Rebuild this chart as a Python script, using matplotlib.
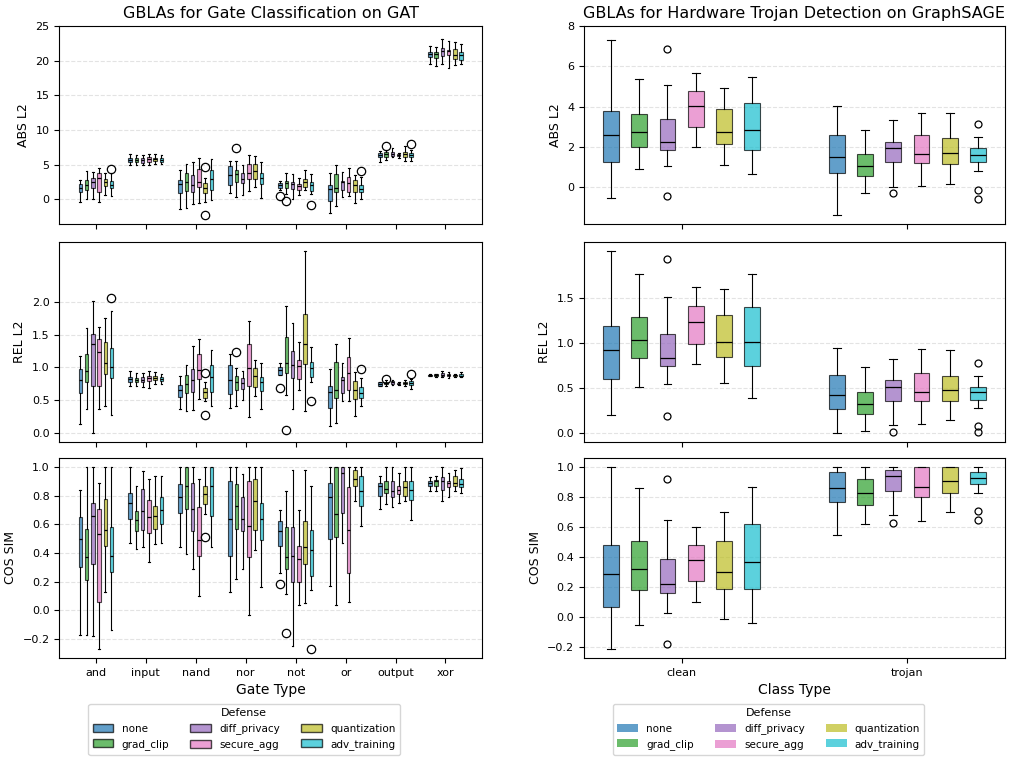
import matplotlib
matplotlib.use("Agg")
import matplotlib.pyplot as plt
from matplotlib.patches import Patch

defenses = ["none", "grad_clip", "diff_privacy", "secure_agg", "quantization", "adv_training"]
colors = ["tab:blue", "tab:green", "tab:purple", "tab:pink", "tab:olive", "tab:cyan"]

gates = ["and", "input", "nand", "nor", "not", "or", "output", "xor"]
classes = ["clean", "trojan"]

# each box: (whislo, q1, median, q3, whishi), one row per category, one box per defense
gat_abs = [
    [(-0.33, 1.10, 1.62, 2.19, 2.76), (0.05, 1.38, 2.10, 2.81, 4.10), (0.0, 1.67, 2.43, 3.05, 4.0),
     (-0.43, 1.0, 3.05, 3.86, 4.57), (0.67, 1.95, 2.43, 2.9, 3.76), (0.43, 1.67, 2.14, 2.67, 3.76)],
    [(5.0, 5.38, 5.71, 5.95, 6.52), (5.0, 5.38, 5.67, 5.90, 6.43), (4.90, 5.24, 5.62, 5.95, 6.43),
     (4.90, 5.43, 5.76, 6.05, 6.52), (5.10, 5.48, 5.76, 5.95, 6.52), (5.10, 5.38, 5.71, 5.95, 6.43)],
    [(-1.43, 0.9, 2.24, 2.76, 4.29), (-1.19, 1.24, 2.52, 3.76, 5.14), (-0.71, 1.05, 2.14, 3.57, 5.43),
     (-0.57, 1.81, 2.52, 4.38, 6.0), (-0.33, 0.9, 1.62, 2.29, 3.14), (-0.14, 1.38, 2.9, 4.24, 5.81)],
    [(0.95, 2.14, 3.48, 4.76, 5.57), (0.29, 2.43, 3.62, 4.29, 5.48), (0.67, 2.33, 2.95, 3.86, 4.9),
     (1.14, 2.9, 3.86, 5.1, 6.43), (1.71, 3.0, 4.1, 5.1, 6.19), (0.19, 2.24, 3.14, 3.86, 5.43)],
    [(1.33, 1.57, 2.05, 2.33, 2.67), (0.81, 1.57, 2.29, 2.67, 3.81), (0.1, 1.43, 2.19, 2.48, 3.62),
     (0.67, 1.33, 1.95, 2.24, 3.05), (1.29, 1.76, 2.52, 2.95, 4.29), (0.76, 1.19, 2.1, 2.48, 3.71)],
    [(-2.0, -0.19, 1.48, 2.1, 3.76), (-0.9, 1.05, 1.62, 3.62, 4.9), (0.33, 1.29, 2.43, 2.71, 4.0),
     (0.52, 1.0, 2.29, 3.24, 4.57), (-0.57, 1.05, 2.1, 2.76, 3.52), (0.05, 1.0, 1.48, 2.1, 3.19)],
    [(5.38, 6.05, 6.33, 6.67, 7.0), (5.71, 6.14, 6.52, 6.76, 7.05), (6.05, 6.24, 6.57, 6.81, 7.38),
     (5.9, 6.19, 6.33, 6.52, 6.67), (5.52, 6.14, 6.52, 6.76, 7.67), (5.52, 6.05, 6.38, 6.67, 7.1)],
    [(19.48, 20.52, 20.95, 21.24, 22.14), (19.19, 20.38, 20.95, 21.24, 21.95), (19.57, 20.71, 21.43, 21.81, 23.05),
     (18.9, 20.76, 21.33, 21.57, 22.81), (19.38, 20.29, 20.76, 21.71, 22.67), (19.48, 20.14, 20.76, 21.19, 22.43)],
]
gat_abs_fliers = {(0, 5): [4.38], (2, 4): [4.71, -2.29], (3, 1): [7.33], (4, 0): [0.52],
                  (4, 1): [-0.29], (4, 5): [-0.76], (5, 5): [4.05], (6, 1): [7.76], (6, 5): [7.95]}

gat_rel = [
    [(0.14, 0.61, 0.81, 0.98, 1.17), (0.37, 0.77, 0.94, 1.21, 1.60), (0.0, 0.72, 1.36, 1.51, 2.01),
     (0.37, 0.72, 1.24, 1.43, 1.62), (0.41, 0.90, 1.07, 1.39, 1.76), (0.27, 0.84, 1.01, 1.29, 1.86)],
    [(0.72, 0.78, 0.82, 0.86, 0.95), (0.72, 0.78, 0.81, 0.84, 0.92), (0.70, 0.77, 0.80, 0.855, 0.92),
     (0.69, 0.79, 0.845, 0.875, 0.95), (0.75, 0.81, 0.845, 0.87, 0.93), (0.75, 0.79, 0.825, 0.855, 0.905)],
    [(0.36, 0.55, 0.66, 0.73, 0.87), (0.33, 0.61, 0.75, 0.89, 1.04), (0.35, 0.63, 0.80, 0.98, 1.32),
     (0.52, 0.82, 0.96, 1.21, 1.43), (0.49, 0.54, 0.62, 0.68, 0.77), (0.41, 0.63, 0.85, 1.04, 1.27)],
    [(0.38, 0.60, 0.81, 1.04, 1.20), (0.41, 0.66, 0.77, 0.87, 0.99), (0.50, 0.67, 0.76, 0.84, 0.95),
     (0.24, 0.72, 0.99, 1.35, 1.71), (0.57, 0.70, 0.87, 0.99, 1.12), (0.37, 0.64, 0.77, 0.85, 1.07)],
    [(0.88, 0.89, 0.96, 1.0, 1.06), (0.58, 0.92, 1.06, 1.46, 1.94), (0.36, 0.84, 1.04, 1.25, 1.67),
     (0.65, 0.82, 1.02, 1.11, 1.38), (0.34, 1.05, 1.36, 1.82, 2.77), (0.78, 0.85, 0.99, 1.08, 1.31)],
    [(0.10, 0.38, 0.63, 0.71, 0.98), (0.15, 0.53, 0.66, 1.08, 1.36), (0.48, 0.61, 0.81, 0.85, 1.07),
     (0.48, 0.65, 0.91, 1.16, 1.45), (0.26, 0.52, 0.66, 0.79, 0.93), (0.41, 0.53, 0.61, 0.70, 0.84)],
    [(0.71, 0.72, 0.74, 0.77, 0.78), (0.71, 0.74, 0.76, 0.78, 0.80), (0.73, 0.75, 0.77, 0.79, 0.81),
     (0.73, 0.74, 0.75, 0.76, 0.77), (0.72, 0.74, 0.76, 0.78, 0.81), (0.67, 0.73, 0.76, 0.79, 0.83)],
    [(0.865, 0.875, 0.88, 0.886, 0.896), (0.86, 0.875, 0.886, 0.896, 0.906), (0.85, 0.875, 0.89, 0.916, 0.95),
     (0.84, 0.87, 0.886, 0.906, 0.936), (0.86, 0.87, 0.88, 0.886, 0.906), (0.85, 0.865, 0.875, 0.896, 0.926)],
]
gat_rel_fliers = {(0, 5): [2.06], (2, 4): [0.92, 0.27], (3, 1): [1.23], (4, 0): [0.69],
                  (4, 1): [0.05], (4, 5): [0.49], (5, 5): [0.98], (6, 1): [0.83], (6, 5): [0.90]}

gat_cos = [
    [(-0.17, 0.30, 0.50, 0.65, 0.84), (-0.17, 0.21, 0.37, 0.57, 1.0), (-0.18, 0.32, 0.66, 0.75, 1.0),
     (-0.27, 0.06, 0.53, 0.71, 0.89), (0.13, 0.45, 0.56, 0.78, 1.0), (-0.14, 0.27, 0.38, 0.58, 1.0)],
    [(0.47, 0.64, 0.75, 0.82, 1.0), (0.43, 0.55, 0.63, 0.69, 0.87), (0.44, 0.56, 0.69, 0.85, 0.97),
     (0.34, 0.54, 0.65, 0.77, 0.92), (0.46, 0.57, 0.66, 0.73, 0.94), (0.47, 0.60, 0.70, 0.79, 0.94)],
    [(0.44, 0.68, 0.79, 0.88, 1.0), (0.39, 0.71, 0.87, 1.0, 1.0), (0.29, 0.55, 0.71, 0.89, 1.0),
     (0.10, 0.38, 0.49, 0.72, 0.92), (0.67, 0.74, 0.81, 0.87, 1.0), (0.44, 0.66, 0.87, 1.0, 1.0)],
    [(0.13, 0.38, 0.64, 0.90, 1.0), (0.22, 0.57, 0.73, 0.88, 1.0), (0.29, 0.55, 0.64, 0.79, 0.95),
     (-0.03, 0.37, 0.59, 0.90, 1.0), (0.42, 0.56, 0.76, 0.92, 1.0), (0.16, 0.49, 0.64, 0.75, 1.0)],
    [(0.26, 0.45, 0.55, 0.62, 0.70), (0.11, 0.29, 0.37, 0.58, 0.83), (-0.25, 0.20, 0.38, 0.58, 0.98),
     (0.04, 0.20, 0.36, 0.45, 0.70), (0.05, 0.32, 0.44, 0.62, 0.98), (0.14, 0.24, 0.42, 0.56, 0.87)],
    [(0.17, 0.50, 0.79, 0.89, 1.0), (0.04, 0.51, 0.67, 1.0, 1.0), (0.47, 0.68, 0.96, 1.0, 1.0),
     (0.06, 0.26, 0.56, 0.86, 1.0), (0.76, 0.87, 0.92, 0.98, 1.0), (0.59, 0.73, 0.83, 0.94, 1.0)],
    [(0.71, 0.80, 0.87, 0.89, 0.94), (0.74, 0.82, 0.85, 0.90, 1.0), (0.72, 0.79, 0.83, 0.90, 1.0),
     (0.75, 0.81, 0.84, 0.87, 0.96), (0.76, 0.80, 0.86, 0.90, 1.0), (0.63, 0.77, 0.84, 0.90, 1.0)],
    [(0.83, 0.87, 0.89, 0.90, 0.93), (0.83, 0.87, 0.90, 0.91, 0.94), (0.76, 0.84, 0.90, 0.93, 1.0),
     (0.79, 0.86, 0.89, 0.90, 0.96), (0.83, 0.87, 0.89, 0.94, 0.98), (0.82, 0.86, 0.88, 0.92, 0.99)],
]
gat_cos_fliers = {(2, 4): [0.51], (4, 0): [0.18], (4, 1): [-0.16], (4, 5): [-0.27]}

sage_abs = [
    [(-0.52, 1.23, 2.6, 3.78, 7.3), (0.88, 2.01, 2.75, 3.62, 5.35), (1.03, 1.87, 2.26, 3.39, 5.09),
     (2.01, 2.98, 4.01, 4.76, 5.68), (1.08, 2.14, 2.75, 3.88, 4.91), (0.65, 1.87, 2.83, 4.17, 5.47)],
    [(-1.39, 0.72, 1.52, 2.59, 4.04), (-0.28, 0.54, 1.05, 1.65, 2.86), (0.03, 1.23, 1.95, 2.24, 3.32),
     (0.08, 1.18, 1.65, 2.57, 3.67), (0.18, 1.16, 1.72, 2.42, 3.7), (0.82, 1.26, 1.62, 1.95, 2.49)],
]
sage_abs_fliers = {(0, 2): [6.87, -0.41], (1, 2): [-0.31], (1, 5): [3.13, -0.15, -0.59]}

sage_rel = [
    [(0.20, 0.60, 0.92, 1.19, 2.02), (0.51, 0.83, 1.03, 1.29, 1.77), (0.54, 0.74, 0.83, 1.10, 1.51),
     (0.77, 0.99, 1.23, 1.41, 1.62), (0.55, 0.85, 1.01, 1.31, 1.60), (0.39, 0.74, 1.01, 1.40, 1.77)],
    [(0.0, 0.27, 0.42, 0.64, 0.94), (0.02, 0.21, 0.32, 0.46, 0.73), (0.09, 0.36, 0.51, 0.59, 0.82),
     (0.10, 0.35, 0.46, 0.67, 0.93), (0.14, 0.35, 0.48, 0.63, 0.92), (0.28, 0.37, 0.45, 0.51, 0.63)],
]
sage_rel_fliers = {(0, 2): [1.94, 0.19], (1, 2): [0.01], (1, 5): [0.78, 0.08, 0.01]}

sage_cos = [
    [(-0.21, 0.07, 0.29, 0.48, 1.0), (-0.05, 0.18, 0.32, 0.51, 0.86), (0.03, 0.16, 0.22, 0.39, 0.65),
     (0.10, 0.24, 0.38, 0.48, 0.60), (-0.01, 0.19, 0.30, 0.51, 0.70), (-0.04, 0.19, 0.37, 0.62, 0.87)],
    [(0.55, 0.77, 0.86, 0.97, 1.0), (0.62, 0.75, 0.83, 0.92, 1.0), (0.68, 0.84, 0.94, 0.98, 1.0),
     (0.64, 0.80, 0.87, 1.0, 1.0), (0.70, 0.83, 0.91, 1.0, 1.0), (0.83, 0.89, 0.93, 0.97, 1.0)],
]
sage_cos_fliers = {(0, 2): [0.92, -0.18], (1, 2): [0.63], (1, 5): [0.71, 0.65]}


def draw_boxes(ax, boxes, fliers, ms):
    step = 0.125
    for d in range(len(defenses)):
        stats = []
        pos = []
        for c, row in enumerate(boxes):
            lo, q1, med, q3, hi = row[d]
            stats.append({"whislo": lo, "q1": q1, "med": med, "q3": q3, "whishi": hi,
                          "fliers": fliers.get((c, d), [])})
            pos.append(c + (d - 2.5) * step)
        art = ax.bxp(stats, positions=pos, widths=0.07, patch_artist=True, manage_ticks=False,
                     boxprops=dict(linewidth=0.8),
                     whiskerprops=dict(linewidth=0.8),
                     capprops=dict(linewidth=0.8),
                     medianprops=dict(color="black", linewidth=0.9),
                     flierprops=dict(marker="o", markerfacecolor="none",
                                     markeredgecolor="black", markersize=ms, markeredgewidth=0.9))
        for b in art["boxes"]:
            b.set_facecolor(colors[d])
            b.set_alpha(0.7)
    ax.grid(axis="y", linestyle="--", alpha=0.35)
    ax.tick_params(labelsize=8)


fig = plt.figure(figsize=(10.14, 7.62), dpi=100)
rows = [(0.706, 0.260), (0.420, 0.262), (0.1365, 0.2625)]
left_axes = [fig.add_axes([0.0585, b, 0.4169, h]) for b, h in rows]
right_axes = [fig.add_axes([0.5759, b, 0.4152, h]) for b, h in rows]

metric_names = ["ABS L2", "REL L2", "COS SIM"]
left_data = [(gat_abs, gat_abs_fliers), (gat_rel, gat_rel_fliers), (gat_cos, gat_cos_fliers)]
right_data = [(sage_abs, sage_abs_fliers), (sage_rel, sage_rel_fliers), (sage_cos, sage_cos_fliers)]

for i, ax in enumerate(left_axes):
    draw_boxes(ax, left_data[i][0], left_data[i][1], 6)
    ax.set_ylabel(metric_names[i], fontsize=9)
    ax.set_xticks(range(len(gates)))
    ax.set_xticklabels(gates if i == 2 else [])
for i, ax in enumerate(right_axes):
    draw_boxes(ax, right_data[i][0], right_data[i][1], 5)
    ax.set_ylabel(metric_names[i], fontsize=9)
    ax.set_xticks(range(len(classes)))
    ax.set_xticklabels(classes if i == 2 else [])

left_axes[0].set_yticks([0, 5, 10, 15, 20, 25])
left_axes[1].set_yticks([0.0, 0.5, 1.0, 1.5, 2.0])
right_axes[0].set_yticks([0, 2, 4, 6, 8])
right_axes[1].set_yticks([0.0, 0.5, 1.0, 1.5])

left_axes[0].set_title("GBLAs for Gate Classification on GAT", fontsize=11.5)
right_axes[0].set_title("GBLAs for Hardware Trojan Detection on GraphSAGE", fontsize=11.5)
left_axes[2].set_xlabel("Gate Type", fontsize=10)
right_axes[2].set_xlabel("Class Type", fontsize=10)

left_handles = [Patch(facecolor=c, edgecolor="black", alpha=0.7, label=n) for c, n in zip(colors, defenses)]
right_handles = [Patch(facecolor=c, alpha=0.7, label=n) for c, n in zip(colors, defenses)]
left_axes[2].legend(handles=left_handles, title="Defense", ncol=3, loc="upper center",
                    bbox_to_anchor=(0.437, -0.205), fontsize=7.5, title_fontsize=8)
right_axes[2].legend(handles=right_handles, title="Defense", ncol=3, loc="upper center",
                     bbox_to_anchor=(0.439, -0.205), fontsize=7.5, title_fontsize=8)

fig.savefig("out.png", dpi=100)
